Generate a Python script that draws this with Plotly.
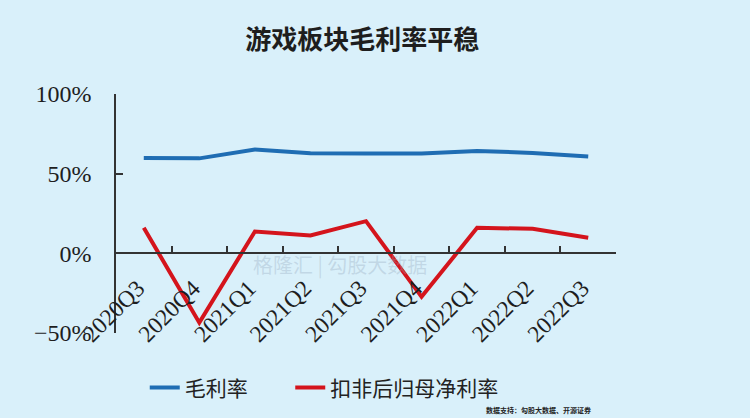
import plotly.graph_objects as go

categories = ["2020Q3", "2020Q4", "2021Q1", "2021Q2", "2021Q3", "2021Q4", "2022Q1", "2022Q2", "2022Q3"]
gross_margin = [0.598, 0.596, 0.652, 0.628, 0.627, 0.627, 0.643, 0.630, 0.607]
net_margin = [0.160, -0.435, 0.137, 0.112, 0.202, -0.273, 0.160, 0.154, 0.098]
series_names = ["毛利率", "扣非后归母净利率"]
title_text = "游戏板块毛利率平稳"
source_text = "数据支持：勾股大数据、开源证券"

BG = "#d9f0fa"
BLUE = "#1f6db3"
RED = "#d4141c"
AXIS = "#333333"
SERIF = "Liberation Serif, Times New Roman, serif"
CJK = "Noto Sans CJK SC, sans-serif"

fig = go.Figure()
fig.add_trace(go.Scatter(x=categories, y=gross_margin, mode="lines", name=series_names[0],
                         line=dict(color=BLUE, width=4), legend="legend"))
fig.add_trace(go.Scatter(x=categories, y=net_margin, mode="lines", name=series_names[1],
                         line=dict(color=RED, width=4), legend="legend2"))

legend_common = dict(orientation="h", xref="container", yref="container",
                     xanchor="left", y=0.072, yanchor="middle",
                     font=dict(family=CJK, size=21, color="#222"),
                     bgcolor="rgba(0,0,0,0)", itemwidth=30)

fig.update_layout(
    width=750, height=418,
    margin=dict(l=116, r=134, t=94, b=85, autoexpand=False),
    paper_bgcolor=BG, plot_bgcolor=BG,
    title=dict(text=title_text, x=0.483, xref="container", xanchor="center",
               y=0.905, yref="container", yanchor="middle",
               font=dict(family=CJK, size=26, color="#1e1e1e", weight="bold")),
    showlegend=True,
    legend=dict(x=0.193, **legend_common),
    legend2=dict(x=0.387, **legend_common),
    xaxis=dict(type="category", range=[-0.5, 8.5], anchor="free", position=1/3,
               automargin=False,
               showline=True, linecolor=AXIS, linewidth=1.5,
               ticks="inside", tickson="boundaries", ticklen=7, tickwidth=1.5, tickcolor=AXIS,
               tickangle=-45, ticklabelstandoff=11, ticklabelshift=-6,
               tickfont=dict(family=SERIF, size=23.5, color="#1e1e1e"),
               showgrid=False, zeroline=False),
    yaxis=dict(range=[-0.5, 1.0], dtick=0.5, tick0=0, tickformat=".0%",
               automargin=False,
               showline=True, linecolor=AXIS, linewidth=1.5,
               ticks="inside", ticklen=7, tickwidth=1.5, tickcolor=AXIS,
               tickfont=dict(family=SERIF, size=24, color="#1e1e1e"),
               showgrid=False, zeroline=False, ticklabelstandoff=18),
)

fig.add_annotation(text=source_text, xref="paper", yref="paper",
                   x=0.954, y=-0.322, xanchor="right", yanchor="middle", showarrow=False,
                   font=dict(family=CJK, size=7, color="#222", weight="bold"))
fig.add_annotation(text="格隆汇 | 勾股大数据", xref="paper", yref="paper",
                   x=0.27, y=0.285, xanchor="left", yanchor="middle", showarrow=False,
                   font=dict(family=CJK, size=20, color="rgba(150,170,190,0.35)"))

fig.write_html("out.html")
